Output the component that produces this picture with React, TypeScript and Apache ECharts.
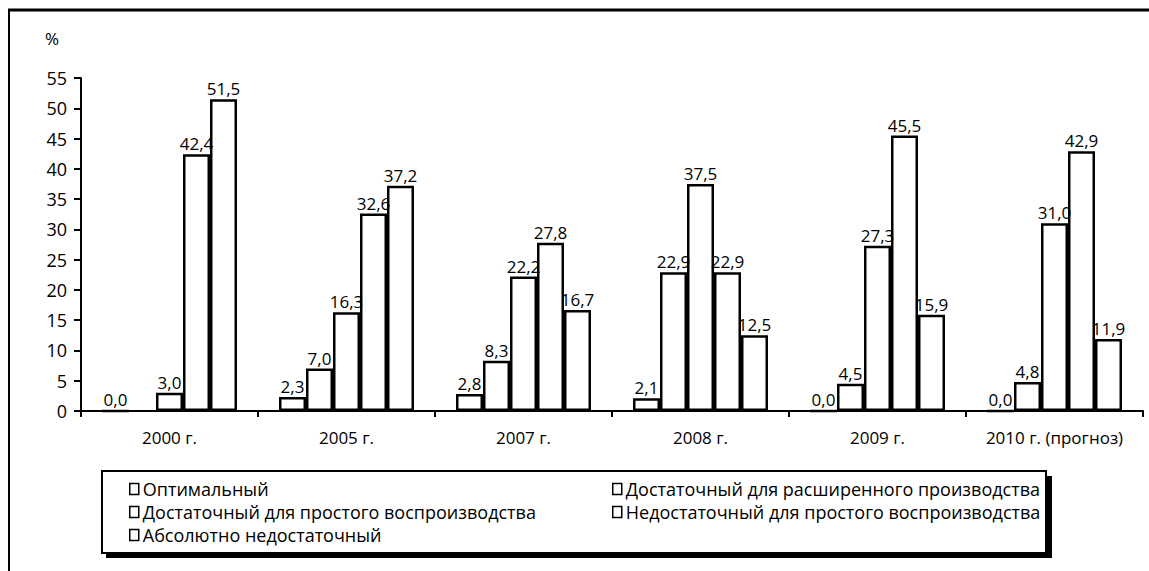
import React, { useEffect, useRef } from "react";
import * as echarts from "echarts";

const categories = ["2000 г.", "2005 г.", "2007 г.", "2008 г.", "2009 г.", "2010 г. (прогноз)"];
const seriesNames = [
  "Оптимальный",
  "Достаточный для расширенного производства",
  "Достаточный для простого воспроизводства",
  "Недостаточный для простого воспроизводства",
  "Абсолютно недостаточный",
];
const optimal: (number | null)[] = [0.0, 2.3, 2.8, 2.1, 0.0, 0.0];
const sufficientExtended: (number | null)[] = [null, 7.0, 8.3, 22.9, 4.5, 4.8];
const sufficientSimple: (number | null)[] = [3.0, 16.3, 22.2, 37.5, 27.3, 31.0];
const insufficientSimple: (number | null)[] = [42.4, 32.6, 27.8, 22.9, 45.5, 42.9];
const absolutelyInsufficient: (number | null)[] = [51.5, 37.2, 16.7, 12.5, 15.9, 11.9];
const seriesData = [optimal, sufficientExtended, sufficientSimple, insufficientSimple, absolutelyInsufficient];
const yTicks = { min: 0, max: 55, interval: 5 };

const FONT = "'Open Sans', 'Noto Sans', sans-serif";

export default function App() {
  const ref = useRef<HTMLDivElement>(null);
  useEffect(() => {
    document.body.style.margin = "0";
    const chart = echarts.init(ref.current!, null, { renderer: "svg" });
    const series = seriesNames.map((name, i) => ({
      name,
      type: "bar",
      data: seriesData[i],
      barWidth: 27,
      barGap: "0%",
      itemStyle: { color: "#fff", borderColor: "#000", borderWidth: 2.5 },
      label: {
        show: true,
        position: "top",
        distance: 2,
        color: "#000",
        fontSize: 17,
        fontFamily: FONT,
        formatter: (p: any) => (p.value == null ? "" : Number(p.value).toFixed(1).replace(".", ",")),
      },
    }));
    const legendCommon = {
      orient: "vertical",
      selectedMode: false,
      icon: "rect",
      itemWidth: 9,
      itemHeight: 11,
      itemGap: 1,
      itemStyle: { color: "#fff", borderColor: "#000", borderWidth: 1.5 },
      textStyle: { fontSize: 18, color: "#000", fontFamily: FONT, lineHeight: 22, padding: [0, 0, 0, -1] },
      top: 478,
      padding: 0,
    };
    chart.setOption({
      animation: false,
      textStyle: { fontFamily: FONT },
      grid: { left: 81, right: 6, top: 78, bottom: 160 },
      xAxis: {
        type: "category",
        data: categories,
        axisLine: { lineStyle: { color: "#000", width: 2 } },
        axisTick: { show: true, interval: 0, length: 6, lineStyle: { color: "#000", width: 2 } },
        axisLabel: { interval: 0, color: "#000", fontSize: 17, fontFamily: FONT, margin: 18 },
      },
      yAxis: {
        type: "value",
        min: yTicks.min,
        max: yTicks.max,
        interval: yTicks.interval,
        splitLine: { show: false },
        axisLine: { show: true, lineStyle: { color: "#000", width: 2 } },
        axisTick: { show: true, length: 7, lineStyle: { color: "#000", width: 2 } },
        axisLabel: { color: "#000", fontSize: 18, fontFamily: FONT, margin: 14 },
      },
      legend: [
        { ...legendCommon, left: 129, data: [seriesNames[0], seriesNames[2], seriesNames[4]] },
        { ...legendCommon, left: 612, data: [seriesNames[1], seriesNames[3]] },
      ],
      graphic: [
        { type: "line", shape: { x1: 9, y1: 10, x2: 9, y2: 571 }, style: { stroke: "#000", lineWidth: 2 }, z: 0 },
        { type: "line", shape: { x1: 8, y1: 10, x2: 1149, y2: 10 }, style: { stroke: "#000", lineWidth: 3 }, z: 0 },
        { type: "text", left: 45, top: 30, style: { text: "%", fontSize: 17, fill: "#000", fontFamily: FONT } },
        { type: "rect", shape: { x: 106, y: 476, width: 946, height: 82 }, style: { fill: "#000" }, z: -2 },
        { type: "rect", shape: { x: 102, y: 471, width: 944, height: 82 }, style: { fill: "#fff", stroke: "#000", lineWidth: 2 }, z: -1 },
      ],
      series,
    });
    return () => chart.dispose();
  }, []);
  return <div ref={ref} style={{ width: 1149, height: 571 }} />;
}
